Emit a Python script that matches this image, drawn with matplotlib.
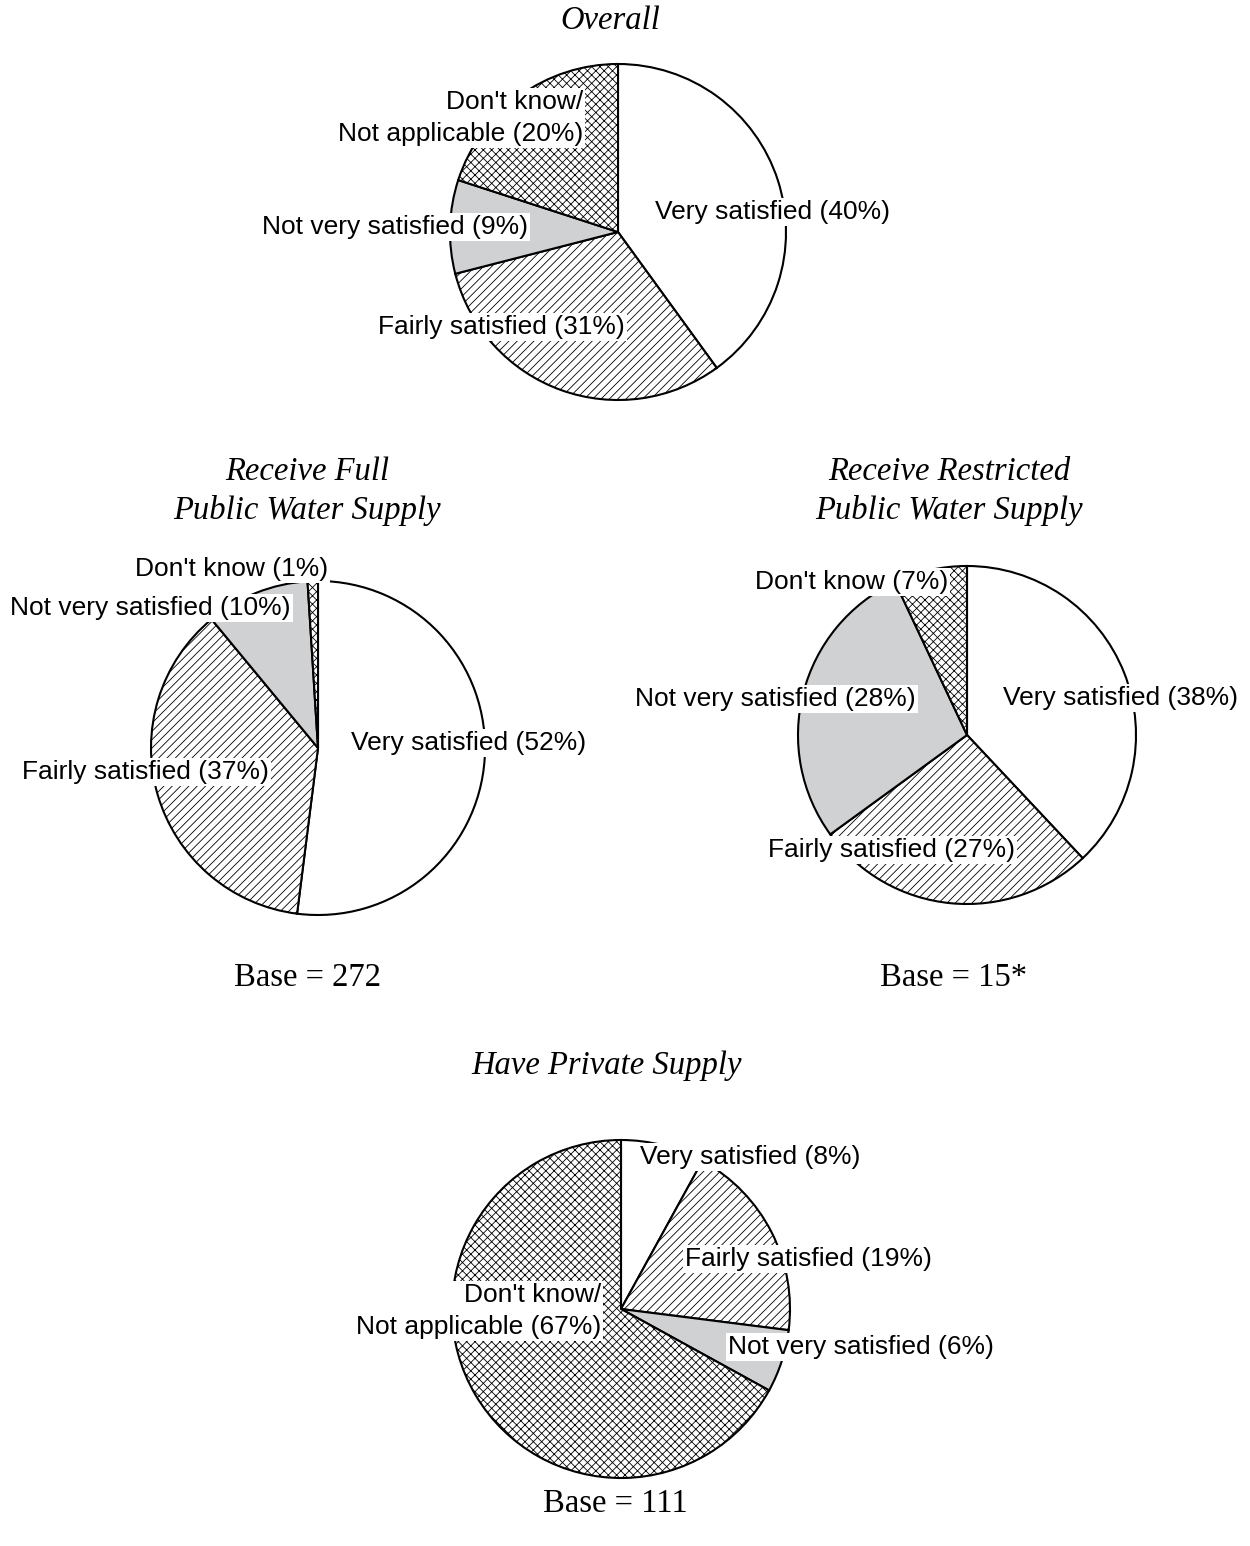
import matplotlib
matplotlib.use('Agg')
import matplotlib.pyplot as plt

# categories in drawing order (clockwise from 12 o'clock)
categories = ['Very satisfied', 'Fairly satisfied', 'Not very satisfied', "Don't know"]

overall    = [40, 31, 9, 20]
full       = [52, 37, 10, 1]
restricted = [38, 27, 28, 7]
private    = [8, 19, 6, 67]

titles = ['Overall', 'Receive Full\nPublic Water Supply',
          'Receive Restricted\nPublic Water Supply', 'Have Private Supply']
bases = [None, 'Base = 272', 'Base = 15*', 'Base = 111']

W, H = 1250, 1546
plt.rcParams['hatch.linewidth'] = 0.6
plt.rcParams['hatch.color'] = 'black'

fills  = ['white', 'white', '#d0d1d3', 'white']
hatches = [None, '////', None, 'xxxx']

fig = plt.figure(figsize=(W/100, H/100), dpi=100)
ax = fig.add_axes([0, 0, 1, 1])

def pie(vals, cx, cy, r):
    wedges, _ = ax.pie(vals, center=(cx, H-cy), radius=r, startangle=90,
                       counterclock=False, colors=fills,
                       wedgeprops=dict(edgecolor='black', linewidth=1.5))
    for w, h in zip(wedges, hatches):
        if h:
            w.set_hatch(h)

pie(overall, 618, 232, 168)
pie(full, 318, 748, 167)
pie(restricted, 967, 735, 169)
pie(private, 621, 1309, 169)

ax.set_xlim(0, W)
ax.set_ylim(0, H)
ax.set_aspect('auto')
ax.axis('off')

lab = dict(fontsize=19, family='Liberation Sans', va='center', linespacing=1.45,
           bbox=dict(facecolor='white', edgecolor='none', pad=1.5))

def label(x, y, s, ha='left'):
    ax.text(x, H-y, s, ha=ha, multialignment=ha, **lab)

# Overall
label(583, 118, "Don't know/\nNot applicable (%d%%)" % overall[3], ha='right')
label(262, 227, "Not very satisfied (%d%%)" % overall[2])
label(655, 212, "Very satisfied (%d%%)" % overall[0])
label(378, 327, "Fairly satisfied (%d%%)" % overall[1])

# full supply
label(135, 569, "Don't know (%d%%)" % full[3])
label(10, 608, "Not very satisfied (%d%%)" % full[2])
label(351, 743, "Very satisfied (%d%%)" % full[0])
label(22, 772, "Fairly satisfied (%d%%)" % full[1])

# restricted supply
label(755, 582, "Don't know (%d%%)" % restricted[3])
label(635, 699, "Not very satisfied (%d%%)" % restricted[2])
label(1003, 698, "Very satisfied (%d%%)" % restricted[0])
label(768, 850, "Fairly satisfied (%d%%)" % restricted[1])

# private supply
label(640, 1157, "Very satisfied (%d%%)" % private[0])
label(685, 1259, "Fairly satisfied (%d%%)" % private[1])
label(601, 1311, "Don't know/\nNot applicable (%d%%)" % private[3], ha='right')
label(728, 1347, "Not very satisfied (%d%%)" % private[2])

tt = dict(fontsize=23.5, family='Liberation Serif', style='italic', ha='center',
          va='center', linespacing=1.33)
ax.text(610, H-21, titles[0], **tt)
ax.text(307, H-491, titles[1], **tt)
ax.text(949, H-491, titles[2], **tt)
ax.text(607, H-1066, titles[3], **tt)

bt = dict(fontsize=23.5, family='Liberation Serif', ha='center', va='center')
ax.text(307, H-978, bases[1], **bt)
ax.text(954, H-978, bases[2], **bt)
ax.text(615, H-1504, bases[3], **bt)

fig.savefig('out.png', dpi=100)
